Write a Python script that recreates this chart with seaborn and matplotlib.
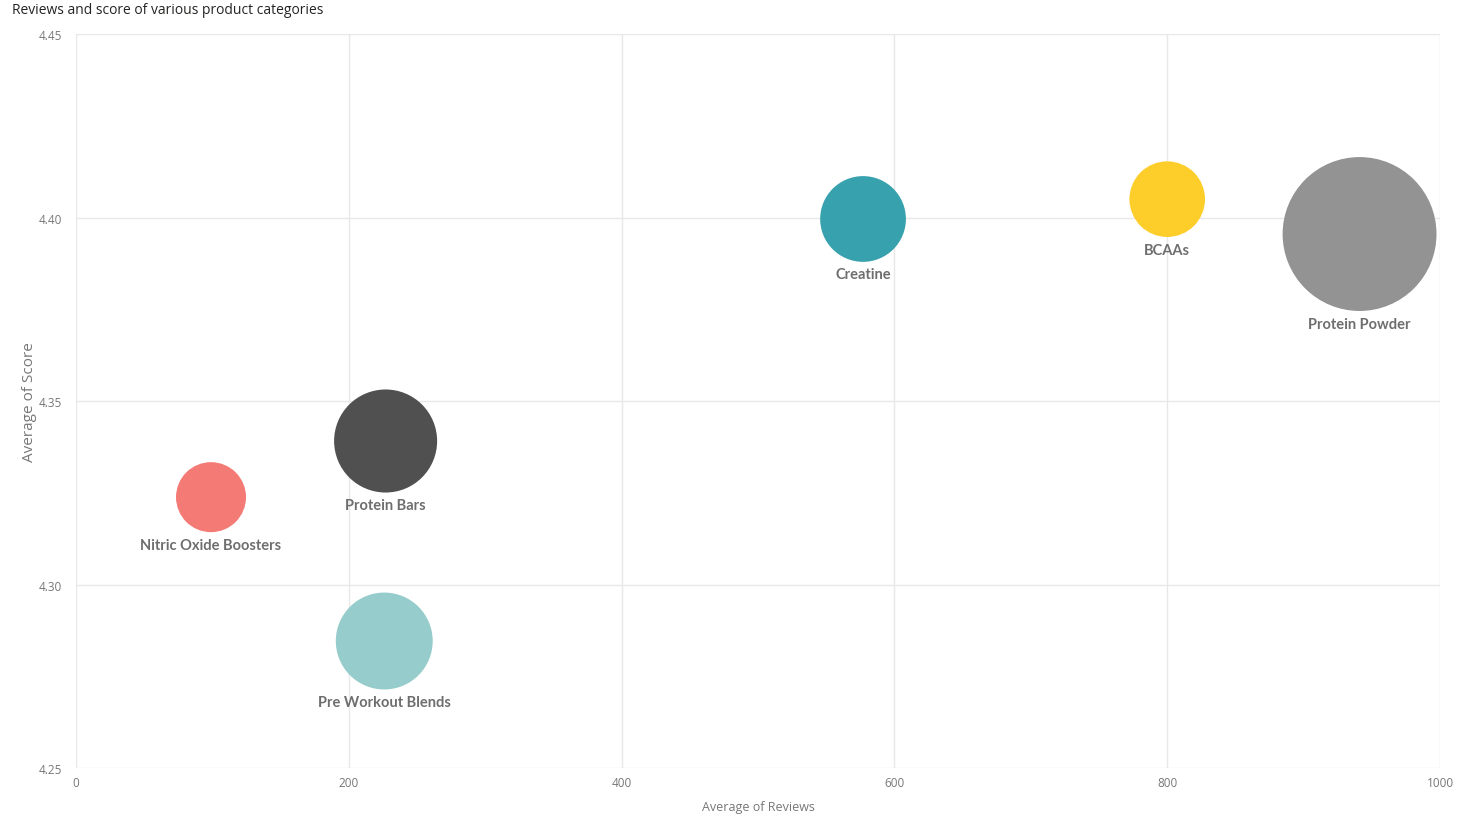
import numpy as np
import pandas as pd
import matplotlib
matplotlib.use("Agg")
import matplotlib.pyplot as plt
import seaborn as sns
from matplotlib.ticker import FormatStrFormatter

# data
categories = ["Nitric Oxide Boosters", "Protein Bars", "Pre Workout Blends",
              "Creatine", "BCAAs", "Protein Powder"]
avg_reviews = [99, 227, 226, 577, 800, 941]
avg_score = [4.3238, 4.3391, 4.2846, 4.3996, 4.4050, 4.3955]
bubble_size = [12, 26, 23, 18, 14, 58]
colors = ["#F47A75", "#505050", "#96CCCB", "#37A2AD", "#FDCD2A", "#939393"]

df = pd.DataFrame({"category": categories, "reviews": avg_reviews,
                   "score": avg_score, "size": bubble_size})

sns.set_theme(style="white")
plt.rcParams["font.family"] = ["Open Sans", "DejaVu Sans"]

fig = plt.figure(figsize=(14.75, 8.2), dpi=100)
ax = fig.add_axes([0.0515, 0.0622, 0.9248, 0.8951])

k = 211.7
smin, smax = min(bubble_size), max(bubble_size)
sns.scatterplot(data=df, x="reviews", y="score", hue="category", palette=colors,
                size="size", sizes=(smin * k, smax * k), size_norm=(smin, smax),
                linewidth=0, alpha=1, legend=False, ax=ax, clip_on=False, zorder=3)

# labels under each bubble
for _, row in df.iterrows():
    r_pt = np.sqrt(row["size"] * k) / 2
    ax.annotate(row["category"], (row["reviews"], row["score"]),
                xytext=(0, -(r_pt + 4)), textcoords="offset points",
                ha="center", va="top", fontsize=10.5, color="#6E6E6E",
                family=["Lato", "DejaVu Sans"], fontweight="bold")

ax.set_xlim(0, 1000)
ax.set_ylim(4.25, 4.45)
ax.set_xticks([0, 200, 400, 600, 800, 1000])
ax.set_yticks([4.25, 4.30, 4.35, 4.40, 4.45])
ax.yaxis.set_major_formatter(FormatStrFormatter("%.2f"))
ax.grid(True, color="#E8E8E8", linewidth=1)
ax.set_axisbelow(True)
for s in ax.spines.values():
    s.set_visible(False)
ax.tick_params(axis="both", length=0, labelsize=8.5, labelcolor="#777777")
ax.tick_params(axis="y", pad=10)
ax.tick_params(axis="x", pad=6)

ax.set_xlabel("Average of Reviews", fontsize=9, color="#777777", labelpad=8)
ax.set_ylabel("Average of Score", fontsize=11, color="#777777", labelpad=1)

fig.text(12 / 1475, 1 - 11 / 820, "Reviews and score of various product categories",
         fontsize=10, color="#252423", ha="left", va="center")

fig.savefig("out.png", dpi=100)
